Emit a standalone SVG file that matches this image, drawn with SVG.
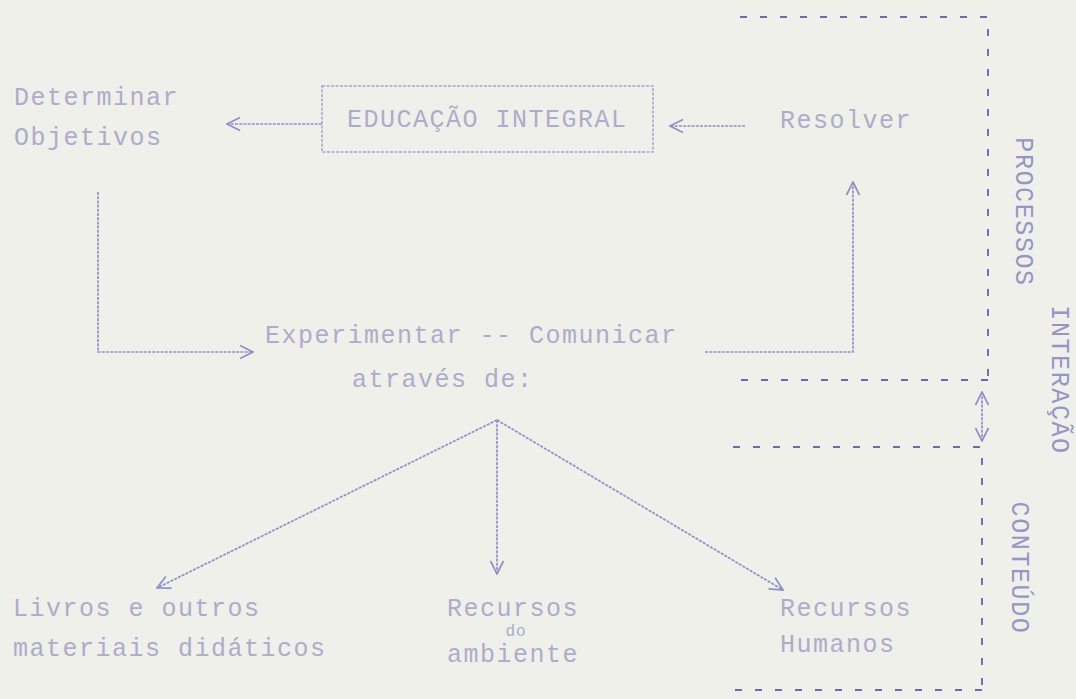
<svg xmlns="http://www.w3.org/2000/svg" width="1076" height="699" viewBox="0 0 1076 699">
  <style>
    .t { font-family: "Liberation Mono", "DejaVu Sans Mono", monospace; font-size: 25px; letter-spacing: 1.5px; fill: #b0abcb; }
    .v { font-family: "Liberation Mono", "DejaVu Sans Mono", monospace; font-size: 25px; letter-spacing: 1.6px; fill: #9a93c6; text-anchor: middle; }
    .c { fill: none; stroke: #958dca; stroke-width: 1.7; stroke-dasharray: 3 1.2; }
    .d { fill: none; stroke: #6f67b3; stroke-width: 1.9; stroke-dasharray: 7 13; }
    .box { fill: none; stroke: #a7a1d0; stroke-width: 1.5; stroke-dasharray: 3 1.5; }
  </style>
  <defs>
    <marker id="ah" viewBox="0 0 16 16" refX="15" refY="8" markerWidth="16" markerHeight="16" markerUnits="userSpaceOnUse" orient="auto-start-reverse">
      <path d="M2,1.5 L15,8 L2,14.5" fill="none" stroke="#958dca" stroke-width="1.7"/>
    </marker>
  </defs>
  <rect width="1076" height="699" fill="#eef0e9"/>

  <g id="regions">
    <path class="d" d="M740,17 H988 V380 M988,380 H733"/>
    <path class="d" d="M733,447 H982 V690 M982,690 H730"/>
  </g>

  <g id="connectors">
    <path class="c" d="M322,124 H227" marker-end="url(#ah)"/>
    <path class="c" d="M745,126 H670" marker-end="url(#ah)"/>
    <path class="c" d="M98,192 V352 H253" marker-end="url(#ah)"/>
    <path class="c" d="M705,352 H853 V182" marker-end="url(#ah)"/>
    <path class="c" d="M497,420 L157,588" marker-end="url(#ah)"/>
    <path class="c" d="M497,420 V574" marker-end="url(#ah)"/>
    <path class="c" d="M497,420 L783,590" marker-end="url(#ah)"/>
    <path class="c" d="M982,392 V441" marker-start="url(#ah)" marker-end="url(#ah)"/>
  </g>

  <g id="node-determinar">
    <text class="t" x="14" y="105">Determinar</text>
    <text class="t" x="14" y="145">Objetivos</text>
  </g>
  <g id="node-educacao">
    <rect class="box" x="322" y="86" width="331" height="66"/>
    <text class="t" x="347" y="127">EDUCAÇÃO INTEGRAL</text>
  </g>
  <g id="node-resolver">
    <text class="t" x="780" y="128">Resolver</text>
  </g>
  <g id="node-experimentar">
    <text class="t" x="265" y="343">Experimentar -- Comunicar</text>
    <text class="t" x="352" y="387">através de:</text>
  </g>
  <g id="node-livros">
    <text class="t" x="13" y="616">Livros e outros</text>
    <text class="t" x="13" y="656">materiais didáticos</text>
  </g>
  <g id="node-ambiente">
    <text class="t" x="447" y="616">Recursos</text>
    <text class="t" x="516" y="636" style="font-size:16px;letter-spacing:1px" text-anchor="middle">do</text>
    <text class="t" x="447" y="662">ambiente</text>
  </g>
  <g id="node-humanos">
    <text class="t" x="780" y="616">Recursos</text>
    <text class="t" x="780" y="652">Humanos</text>
  </g>
  <g id="labels">
    <text class="v" transform="translate(1016,212) rotate(90)">PROCESSOS</text>
    <text class="v" transform="translate(1052,380) rotate(90)">INTERAÇÃO</text>
    <text class="v" transform="translate(1012,568) rotate(90)">CONTEÚDO</text>
  </g>
</svg>
